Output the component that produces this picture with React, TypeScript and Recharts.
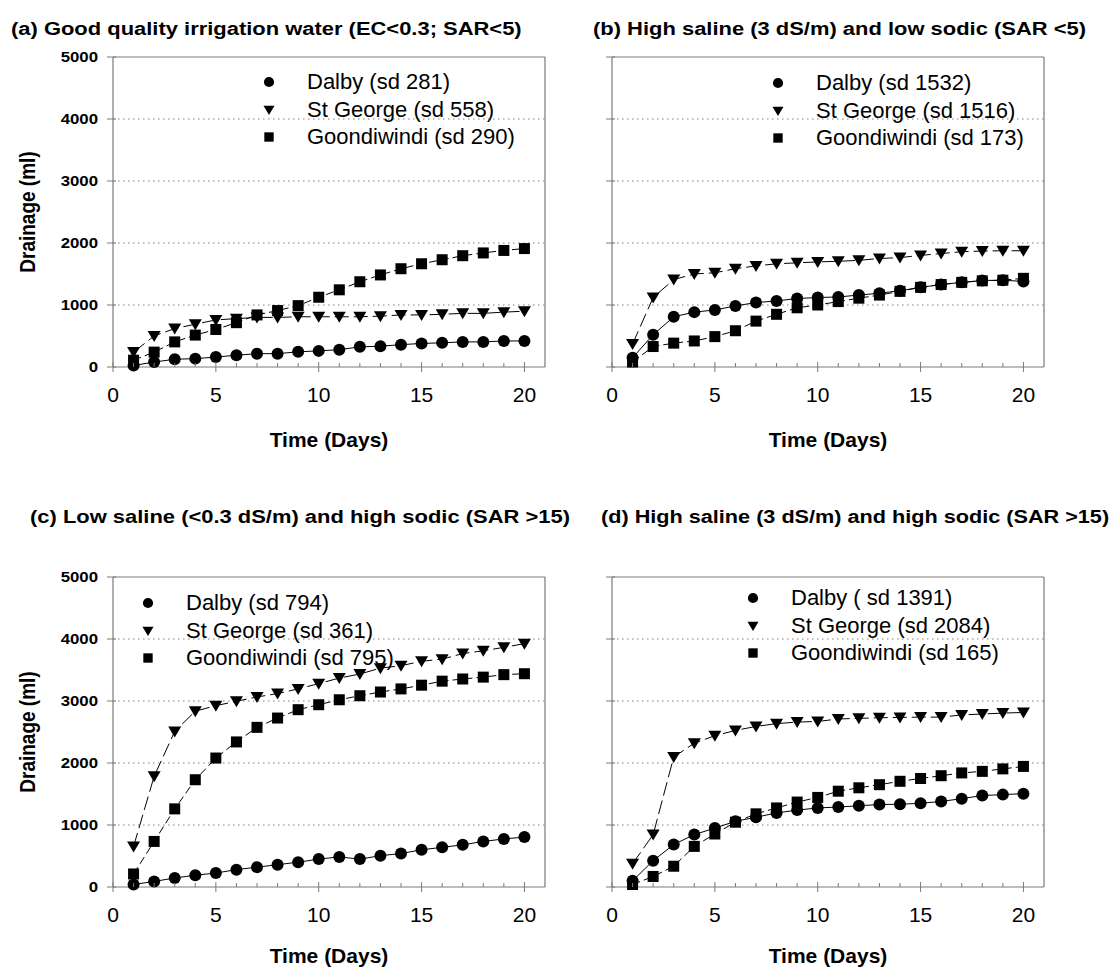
import { LineChart, Line, XAxis, YAxis, CartesianGrid, ReferenceLine, Legend } from 'recharts';

const days = [1, 2, 3, 4, 5, 6, 7, 8, 9, 10, 11, 12, 13, 14, 15, 16, 17, 18, 19, 20];
const dayTicks = [0, 1, 2, 3, 4, 5, 6, 7, 8, 9, 10, 11, 12, 13, 14, 15, 16, 17, 18, 19, 20];
const drainageTicks = [0, 1000, 2000, 3000, 4000, 5000];
const gridValues = [1000, 2000, 3000, 4000];

// (a) good quality water
const aDalby = [25, 80, 125, 135, 160, 190, 215, 215, 245, 260, 280, 325, 335, 360, 380, 390, 405, 405, 420, 420];
const aStGeorge = [240, 500, 620, 690, 760, 780, 800, 800, 810, 810, 810, 810, 820, 840, 840, 850, 865, 865, 885, 900];
const aGoondiwindi = [110, 240, 405, 515, 605, 715, 840, 910, 990, 1125, 1245, 1375, 1485, 1585, 1665, 1730, 1795, 1840, 1880, 1910];
const aLabels = ['Dalby (sd 281)', 'St George (sd 558)', 'Goondiwindi (sd 290)'];

// (b) high saline, low sodic
const bDalby = [150, 520, 810, 885, 920, 985, 1040, 1065, 1105, 1120, 1130, 1160, 1190, 1230, 1285, 1330, 1365, 1395, 1400, 1380];
const bStGeorge = [370, 1120, 1410, 1500, 1520, 1585, 1630, 1665, 1680, 1695, 1705, 1720, 1750, 1765, 1800, 1830, 1860, 1870, 1875, 1875];
const bGoondiwindi = [80, 330, 385, 420, 490, 585, 740, 850, 955, 1000, 1055, 1110, 1160, 1220, 1285, 1330, 1365, 1390, 1400, 1430];
const bLabels = ['Dalby (sd 1532)', 'St George (sd 1516)', 'Goondiwindi (sd 173)'];

// (c) low saline, high sodic
const cDalby = [40, 90, 145, 190, 225, 280, 320, 360, 400, 450, 485, 450, 505, 540, 600, 640, 680, 735, 775, 805];
const cStGeorge = [655, 1785, 2510, 2835, 2925, 2995, 3065, 3120, 3195, 3280, 3370, 3435, 3530, 3570, 3640, 3675, 3765, 3810, 3865, 3925];
const cGoondiwindi = [210, 735, 1260, 1730, 2080, 2340, 2575, 2725, 2860, 2940, 3020, 3085, 3145, 3195, 3255, 3320, 3355, 3385, 3425, 3440];
const cLabels = ['Dalby (sd 794)', 'St George (sd 361)', 'Goondiwindi (sd 795)'];

// (d) high saline, high sodic
const dDalby = [100, 425, 685, 845, 950, 1060, 1125, 1195, 1240, 1275, 1290, 1310, 1330, 1335, 1350, 1380, 1425, 1475, 1490, 1505];
const dStGeorge = [375, 845, 2095, 2320, 2440, 2525, 2590, 2635, 2660, 2670, 2710, 2720, 2730, 2735, 2740, 2740, 2775, 2790, 2805, 2815];
const dGoondiwindi = [40, 170, 335, 655, 855, 1045, 1180, 1275, 1370, 1445, 1545, 1600, 1650, 1705, 1750, 1795, 1840, 1865, 1905, 1945];
const dLabels = ['Dalby ( sd 1391)', 'St George (sd 2084)', 'Goondiwindi (sd 165)'];

const FONT = '"Liberation Sans", Arial, sans-serif';
const AXIS = '#7a7a7a';
const KEYS = ['dalby', 'stGeorge', 'goondiwindi'];
const SHAPES: Record<string, string> = { dalby: 'circle', stGeorge: 'triangle', goondiwindi: 'square' };
const DASH: Record<string, string | undefined> = { dalby: undefined, stGeorge: '14 5', goondiwindi: '8 4' };

function Marker({ kind, cx, cy, s = 1 }: any) {
  if (kind === 'circle') return <circle cx={cx} cy={cy} r={6 * s} fill="#000" />;
  if (kind === 'triangle')
    return <path d={`M${cx - 6.5 * s},${cy - 5 * s} L${cx + 6.5 * s},${cy - 5 * s} L${cx},${cy + 6 * s} Z`} fill="#000" />;
  return <rect x={cx - 5.5 * s} y={cy - 5.5 * s} width={11 * s} height={11 * s} fill="#000" />;
}

function XTick({ x, y, payload }: any) {
  const major = payload.value % 5 === 0;
  return (
    <g>
      <line x1={x} x2={x} y1={major ? y - 5 : y - 4} y2={major ? y + 5 : y} stroke={AXIS} />
      {major && (
        <text x={x} y={y + 35} textAnchor="middle" fontSize={21} fontFamily={FONT} fill="#000">
          {payload.value}
        </text>
      )}
    </g>
  );
}

function makeYTick(showLabel: boolean) {
  return ({ x, y, payload }: any) => (
    <g>
      <line x1={x - 6} x2={x + 3} y1={y} y2={y} stroke={AXIS} />
      {showLabel && (
        <text
          transform={`translate(${x - 15},${y + 5}) scale(1.2,1)`}
          textAnchor="end"
          fontSize={14}
          fontWeight="bold"
          fontFamily={FONT}
          fill="#000"
        >
          {payload.value}
        </text>
      )}
    </g>
  );
}

function makeDot(kind: string) {
  return (props: any) => <Marker key={`${kind}-${props.index}`} kind={kind} cx={props.cx} cy={props.cy} />;
}

function LegendBox({ payload, labels }: any) {
  const items = KEYS.map((k, i) => ({ key: k, label: labels[i] }));
  const present = new Set((payload || []).map((p: any) => p.dataKey));
  return (
    <div style={{ fontFamily: FONT, fontSize: 22, color: '#000' }}>
      {items
        .filter((it) => present.size === 0 || present.has(it.key))
        .map((it) => (
          <div key={it.key} style={{ display: 'flex', alignItems: 'center', height: 27.5, whiteSpace: 'nowrap' }}>
            <svg width={16} height={16} style={{ flex: 'none' }}>
              <Marker kind={SHAPES[it.key]} cx={8} cy={8} s={0.85} />
            </svg>
            <span style={{ marginLeft: 30, lineHeight: '22px' }}>{it.label}</span>
          </div>
        ))}
    </div>
  );
}

function Panel({ ox, oy, dalby, stGeorge, goondiwindi, labels, showYLabels, legendX, legendY }: any) {
  const data = days.map((d, i) => ({ day: d, dalby: dalby[i], stGeorge: stGeorge[i], goondiwindi: goondiwindi[i] }));
  return (
    <div style={{ position: 'absolute', left: ox, top: oy }}>
      <LineChart width={560} height={420} data={data} margin={{ top: 57, right: 15, left: 53, bottom: 23 }}>
        <CartesianGrid vertical={false} horizontalValues={gridValues} stroke="#808080" strokeDasharray="1.5 3.5" />
        <XAxis
          dataKey="day"
          type="number"
          domain={[0, 21]}
          ticks={dayTicks}
          interval={0}
          height={30}
          tickSize={0}
          tickMargin={0}
          tickLine={false}
          axisLine={{ stroke: AXIS, strokeWidth: 1.2 }}
          tick={<XTick />}
        />
        <YAxis
          type="number"
          domain={[0, 5000]}
          ticks={drainageTicks}
          interval={0}
          width={60}
          tickSize={0}
          tickMargin={0}
          tickLine={false}
          axisLine={{ stroke: AXIS, strokeWidth: 1.2 }}
          tick={makeYTick(showYLabels)}
        />
        <ReferenceLine y={5000} stroke={AXIS} strokeWidth={1.2} />
        <ReferenceLine x={21} stroke={AXIS} strokeWidth={1.2} />
        {KEYS.map((k) => (
          <Line
            key={k}
            dataKey={k}
            type="linear"
            stroke="#000"
            strokeWidth={1}
            strokeDasharray={DASH[k]}
            dot={makeDot(SHAPES[k])}
            activeDot={false}
            isAnimationActive={false}
          />
        ))}
        <Legend
          layout="vertical"
          align="center"
          verticalAlign="middle"
          wrapperStyle={{ left: legendX - 8, top: legendY - 13.75, width: 'auto' }}
          content={(props: any) => <LegendBox payload={props.payload} labels={labels} />}
        />
      </LineChart>
    </div>
  );
}

export default function App() {
  const titleProps = { fontSize: 19, fontWeight: 'bold', fontFamily: FONT, fill: '#000' } as const;
  const axisTitle = { fontSize: 21, fontWeight: 'bold', fontFamily: FONT, fill: '#000', textAnchor: 'middle' } as const;
  return (
    <div style={{ position: 'absolute', left: 0, top: 0, width: 1115, height: 969, background: '#fff', overflow: 'hidden' }}>
      <Panel ox={0} oy={0} dalby={aDalby} stGeorge={aStGeorge} goondiwindi={aGoondiwindi} labels={aLabels} showYLabels legendX={269} legendY={82} />
      <Panel ox={499} oy={0} dalby={bDalby} stGeorge={bStGeorge} goondiwindi={bGoondiwindi} labels={bLabels} showYLabels={false} legendX={279} legendY={83} />
      <Panel ox={0} oy={520} dalby={cDalby} stGeorge={cStGeorge} goondiwindi={cGoondiwindi} labels={cLabels} showYLabels legendX={148} legendY={83} />
      <Panel ox={499} oy={520} dalby={dDalby} stGeorge={dStGeorge} goondiwindi={dGoondiwindi} labels={dLabels} showYLabels={false} legendX={254} legendY={78} />
      <svg width={1115} height={969} style={{ position: 'absolute', left: 0, top: 0, pointerEvents: 'none' }}>
        <text transform="translate(11,34.6) scale(1.155,1)" {...titleProps}>(a) Good quality irrigation water (EC&lt;0.3; SAR&lt;5)</text>
        <text transform="translate(593,34.6) scale(1.155,1)" {...titleProps}>(b) High saline (3 dS/m) and low sodic (SAR &lt;5)</text>
        <text transform="translate(30,523) scale(1.155,1)" {...titleProps}>(c) Low saline (&lt;0.3 dS/m) and high sodic (SAR &gt;15)</text>
        <text transform="translate(601,523) scale(1.14,1)" {...titleProps}>(d) High saline (3 dS/m) and high sodic (SAR &gt;15)</text>
        <text x={329} y={447} {...axisTitle}>Time (Days)</text>
        <text x={828} y={447} {...axisTitle}>Time (Days)</text>
        <text x={329} y={963} {...axisTitle}>Time (Days)</text>
        <text x={828} y={963} {...axisTitle}>Time (Days)</text>
        <text transform="translate(35,212) scale(1.13,1) rotate(-90)" {...axisTitle} fontSize={19}>Drainage (ml)</text>
        <text transform="translate(35,732) scale(1.13,1) rotate(-90)" {...axisTitle} fontSize={19}>Drainage (ml)</text>
      </svg>
    </div>
  );
}
